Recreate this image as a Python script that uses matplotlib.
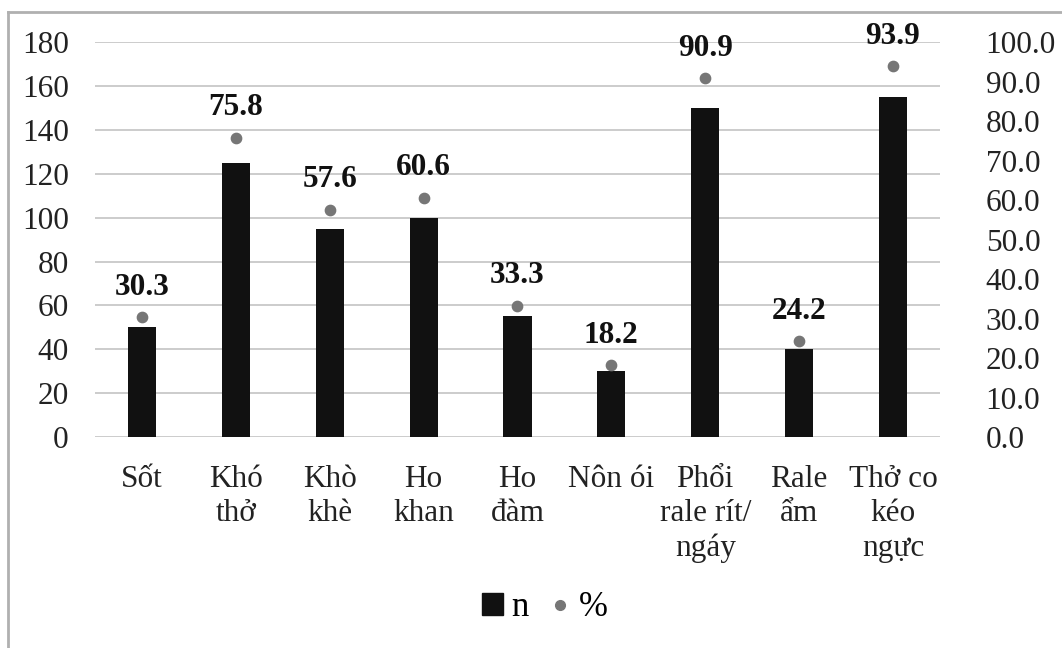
import matplotlib.pyplot as plt
import numpy as np
from matplotlib.lines import Line2D
from matplotlib.patches import Patch

plt.rcParams['font.family'] = ['Liberation Serif', 'DejaVu Serif']

categories = ["Sốt", "Khó\nthở", "Khò\nkhè", "Ho\nkhan", "Ho\nđàm", "Nôn ói",
              "Phổi\nrale rít/\nngáy", "Rale\nẩm", "Thở co\nkéo\nngực"]
n_values = [50, 125, 95, 100, 55, 30, 150, 40, 155]
pct_values = [30.3, 75.8, 57.6, 60.6, 33.3, 18.2, 90.9, 24.2, 93.9]

fig = plt.figure(figsize=(10.62, 6.48), dpi=100)
ax = fig.add_axes([0.0895, 0.3256, 0.7955, 0.6094])
x = np.arange(len(categories))

ax.bar(x, n_values, width=0.3, color='#111111', zorder=3)
ax.set_ylim(0, 180)
ax.set_yticks(range(0, 181, 20))
ax.set_xlim(-0.5, len(categories) - 0.5)
ax.set_xticks(x)
ax.set_xticklabels(categories, fontsize=22.5, linespacing=1.25, va='top')
ax.tick_params(axis='both', length=0, labelsize=22.5, colors='#222222')
ax.tick_params(axis='x', pad=20)
ax.tick_params(axis='y', pad=19)
ax.grid(axis='y', color='#c4c4c4', linewidth=1.2, zorder=0)
for s in ax.spines.values():
    s.set_visible(False)

ax2 = ax.twinx()
ax2.set_ylim(0, 100)
ax2.set_yticks(range(0, 101, 10))
ax2.set_yticklabels([f"{v:.1f}" for v in range(0, 101, 10)])
ax2.tick_params(axis='y', length=0, labelsize=22.5, colors='#222222', pad=33)
for s in ax2.spines.values():
    s.set_visible(False)
ax2.scatter(x, pct_values, s=55, color='#767676', zorder=4)
for xi, p in zip(x, pct_values):
    ax2.annotate(f"{p:.1f}", (xi, p), xytext=(0, 11), textcoords='offset points',
                 ha='center', va='bottom', fontsize=22.5, fontweight='bold', color='#111111')

handles = [Patch(color='#111111', label='n'),
           Line2D([], [], marker='o', linestyle='none', color='#767676', markersize=7, label='%')]
fig.legend(handles=handles, loc='center', bbox_to_anchor=(0.513, 0.062), ncol=2, frameon=False,
           fontsize=25, handlelength=0.6, handleheight=0.6, handletextpad=0.25, columnspacing=0.6)

# chart frame (left and top edges visible)
fig.add_artist(Line2D([0.0075, 0.0075], [0, 0.981], transform=fig.transFigure, color='#b0b0b0', lw=2))
fig.add_artist(Line2D([0.0075, 1], [0.981, 0.981], transform=fig.transFigure, color='#b0b0b0', lw=2))

fig.savefig("out.png", dpi=100)
